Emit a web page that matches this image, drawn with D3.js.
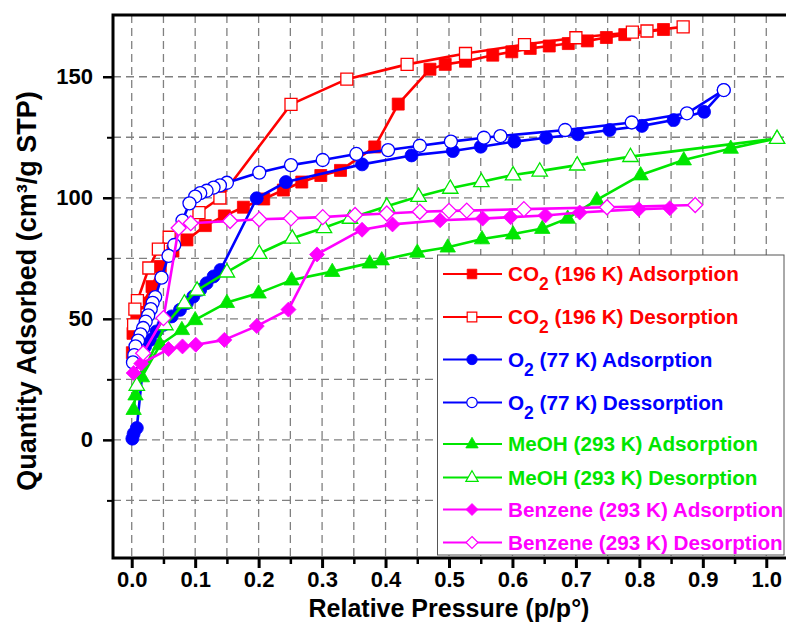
<!DOCTYPE html>
<html>
<head>
<meta charset="utf-8">
<script src="https://cdn.jsdelivr.net/npm/d3@7"></script>
<style>
	body { margin: 0; background: #fff; }
	text { font-family: "Liberation Sans", Arial, sans-serif; font-weight: bold; }
</style>
</head>
<body>
<script>
// isotherm points, [p/p0, cm3/g STP]
var co2Ads = [[0.001, 36], [0.002, 44], [0.008, 50.5], [0.018, 56.5], [0.032, 63.3], [0.045, 71.6], [0.065, 78],
	[0.087, 82.6], [0.116, 88.5], [0.146, 92.5], [0.176, 96.1], [0.208, 99.5], [0.239, 103.2], [0.268, 106.5],
	[0.298, 109.2], [0.329, 111.3], [0.383, 121], [0.420, 138.7], [0.470, 153.1], [0.494, 155.1], [0.526, 156.4],
	[0.569, 158.9], [0.599, 160.3], [0.628, 161.7], [0.658, 162.7], [0.688, 163.7], [0.718, 164.8], [0.748, 166.2],
	[0.777, 167.4], [0.838, 169.5]]
var co2Des = [[0.869, 170.6], [0.812, 168.9], [0.789, 168.4], [0.700, 166.1], [0.619, 163.3], [0.526, 159.6],
	[0.434, 155.1], [0.339, 149.0], [0.251, 138.6], [0.139, 99.9], [0.106, 93.9], [0.059, 83.7], [0.042, 78.8],
	[0.027, 71.0], [0.009, 57.5], [0.005, 54], [0.003, 47.5]]
var o2Ads = [[0.001, 0.5], [0.003, 2.5], [0.008, 4.9], [0.021, 38.5], [0.029, 41.3], [0.039, 44.8], [0.050, 47.5],
	[0.063, 51], [0.076, 53.7], [0.087, 56.5], [0.097, 59.2], [0.108, 62], [0.118, 64.7], [0.129, 67.5], [0.140, 70.2],
	[0.197, 99.8], [0.243, 106.5], [0.363, 113.8], [0.441, 117.5], [0.506, 119.3], [0.550, 121.1], [0.603, 123.2],
	[0.653, 124.8], [0.703, 126.2], [0.753, 128.0], [0.804, 129.7], [0.854, 132.1], [0.902, 135.5], [0.933, 144.5]]
var o2Des = [[0.933, 144.5], [0.875, 134.9], [0.788, 131.1], [0.683, 128.0], [0.581, 125.5], [0.555, 124.8],
	[0.503, 123.2], [0.454, 121.5], [0.404, 119.7], [0.354, 118.1], [0.301, 115.6], [0.251, 113.5], [0.201, 110.4],
	[0.150, 106.2], [0.139, 105.1], [0.129, 104.2], [0.118, 102.9], [0.108, 101.9], [0.100, 100.5], [0.091, 97.7],
	[0.080, 90.6], [0.067, 80.5], [0.058, 76.0], [0.047, 67.0], [0.037, 59.0], [0.033, 56.6], [0.030, 54],
	[0.026, 51.4], [0.022, 48.8], [0.018, 46.2], [0.014, 43.6], [0.010, 41], [0.006, 38.6], [0.004, 35], [0.002, 32]]
var meohAds = [[0.003, 12.5], [0.006, 18.5], [0.016, 26], [0.045, 39.3], [0.079, 45.5], [0.100, 49.6], [0.150, 56.7],
	[0.200, 60.6], [0.252, 66], [0.316, 69.5], [0.375, 73], [0.394, 74.3], [0.450, 77.5], [0.498, 79.6], [0.552, 83],
	[0.601, 85], [0.647, 87.3], [0.687, 91.5], [0.733, 99.1], [0.802, 109.4], [0.870, 115.6], [0.944, 120.4],
	[1.017, 124.5]]
var meohDes = [[1.017, 124.5], [0.786, 117], [0.702, 113.5], [0.643, 111], [0.601, 109.4], [0.551, 106.6],
	[0.502, 103.9], [0.452, 100.5], [0.402, 96.5], [0.344, 91.5], [0.303, 87.6], [0.253, 83.3], [0.201, 77],
	[0.150, 69.3], [0.103, 61.8], [0.083, 56.5], [0.053, 47.5], [0.008, 22.5]]
var benzAds = [[0.003, 27.6], [0.015, 31.5], [0.058, 37.5], [0.080, 38.6], [0.101, 39.3], [0.146, 41.3], [0.197, 47],
	[0.247, 53.8], [0.292, 76.6], [0.363, 86.8], [0.411, 89], [0.486, 90.7], [0.553, 91.4], [0.597, 92], [0.652, 92.7],
	[0.706, 93.9], [0.799, 95.3], [0.848, 95.7]]
var benzDes = [[0.888, 97], [0.749, 96.1], [0.618, 95.3], [0.528, 94.7], [0.500, 94.6], [0.454, 94.2], [0.402, 93.5],
	[0.352, 92.9], [0.301, 92], [0.251, 91.5], [0.201, 91.1], [0.155, 90.4], [0.093, 89.5], [0.074, 87.5],
	[0.050, 50.3], [0.018, 35.8]]

var xMajor = [0, 0.1, 0.2, 0.3, 0.4, 0.5, 0.6, 0.7, 0.8, 0.9, 1.0]
var xMinor = [0.05, 0.15, 0.25, 0.35, 0.45, 0.55, 0.65, 0.75, 0.85, 0.95, 1.05]
var yMajor = [0, 50, 100, 150]
var yMinor = [-25, 25, 75, 125]

var legendNames = [
	['CO', '2', ' (196 K) Adsorption'],
	['CO', '2', ' (196 K) Desorption'],
	['O', '2', ' (77 K) Adsorption'],
	['O', '2', ' (77 K) Dessorption'],
	['MeOH (293 K) Adsorption', '', ''],
	['MeOH (293 K) Desorption', '', ''],
	['Benzene (293 K) Adsorption', '', ''],
	['Benzene (293 K) Desorption', '', '']
]

var red = '#ff0000', blue = '#0000ff', green = '#00e600', magenta = '#ff00ff'

// custom marker shapes, size = width in px
var symSquare = { draw: function (c, s) { c.rect(-s / 2, -s / 2, s, s) } }
var symCircle = { draw: function (c, s) { c.moveTo(s / 2, 0); c.arc(0, 0, s / 2, 0, 2 * Math.PI) } }
var symTriangle = {
	draw: function (c, s) {
		c.moveTo(0, -0.6 * s); c.lineTo(0.55 * s, 0.35 * s); c.lineTo(-0.55 * s, 0.35 * s); c.closePath()
	}
}
var symDiamond = {
	draw: function (c, s) {
		var h = s / 2
		c.moveTo(0, -h); c.lineTo(h, 0); c.lineTo(0, h); c.lineTo(-h, 0); c.closePath()
	}
}

var series = [
	{ data: co2Ads, color: red, sym: symSquare, size: 12, filled: true },
	{ data: co2Des, color: red, sym: symSquare, size: 12, filled: false },
	{ data: o2Ads, color: blue, sym: symCircle, size: 13, filled: true },
	{ data: o2Des, color: blue, sym: symCircle, size: 13, filled: false },
	{ data: meohAds, color: green, sym: symTriangle, size: 14, filled: true },
	{ data: meohDes, color: green, sym: symTriangle, size: 14, filled: false },
	{ data: benzAds, color: magenta, sym: symDiamond, size: 15, filled: true },
	{ data: benzDes, color: magenta, sym: symDiamond, size: 15, filled: false }
]

var width = 786, height = 635
var plotL = 113, plotR = 798, plotT = 15, plotB = 558

var svg = d3.select('body').append('svg')
	.attr('width', width)
	.attr('height', height)

var x = d3.scaleLinear()
	.domain([-0.0295, 1.05])
	.range([plotL, plotR])

var y = d3.scaleLinear()
	.domain([-48.8, 175.5])
	.range([plotB, plotT])

// dashed grid
var grid = svg.append('g')
	.attr('stroke', '#808080')
	.attr('stroke-width', 1.3)
	.attr('stroke-dasharray', '8,5')

grid.selectAll('.vg')
	.data(xMajor.concat(xMinor))
	.enter().append('line')
	.attr('class', 'vg')
	.attr('x1', function (d) { return x(d) })
	.attr('x2', function (d) { return x(d) })
	.attr('y1', plotT)
	.attr('y2', plotB)

grid.selectAll('.hg')
	.data(yMajor.concat(yMinor))
	.enter().append('line')
	.attr('class', 'hg')
	.attr('x1', plotL)
	.attr('x2', plotR)
	.attr('y1', function (d) { return y(d) })
	.attr('y2', function (d) { return y(d) })

var line = d3.line()
	.x(function (d) { return x(d[0]) })
	.y(function (d) { return y(d[1]) })

series.forEach(function (s) {
	var g = svg.append('g')
	g.append('path')
		.attr('d', line(s.data))
		.attr('fill', 'none')
		.attr('stroke', s.color)
		.attr('stroke-width', 2.6)
		.attr('stroke-linejoin', 'round')

	g.selectAll('.pt')
		.data(s.data)
		.enter().append('path')
		.attr('class', 'pt')
		.attr('transform', function (d) { return 'translate(' + x(d[0]) + ',' + y(d[1]) + ')' })
		.attr('d', d3.symbol().type(s.sym).size(s.size))
		.attr('fill', s.filled ? s.color : '#fff')
		.attr('stroke', s.color)
		.attr('stroke-width', s.filled ? 0.8 : 1.3)
})

// legend
var legend = svg.append('g')
legend.append('rect')
	.attr('x', 437.5)
	.attr('y', 255)
	.attr('width', 346.5)
	.attr('height', 300)
	.attr('fill', '#fff')
	.attr('stroke', '#555')
	.attr('stroke-width', 1)

var rowY = [274, 317, 359.5, 402.5, 444, 477.5, 509.5, 542.5]

legendNames.forEach(function (n, i) {
	var s = series[i]
	var ly = rowY[i]
	legend.append('line')
		.attr('x1', 443).attr('x2', 502)
		.attr('y1', ly).attr('y2', ly)
		.attr('stroke', s.color)
		.attr('stroke-width', 2.2)
	legend.append('path')
		.attr('transform', 'translate(472,' + ly + ')')
		.attr('d', d3.symbol().type(s.sym).size(s.size * 0.8))
		.attr('fill', s.filled ? s.color : '#fff')
		.attr('stroke', s.color)
		.attr('stroke-width', s.filled ? 0.8 : 1.2)

	var t = legend.append('text')
		.attr('x', 508)
		.attr('y', ly + 7)
		.attr('font-size', 20.7)
		.attr('fill', s.color)
	t.append('tspan').text(n[0])
	if (n[1]) {
		t.append('tspan').attr('font-size', 17.5).attr('dy', 9).text(n[1])
		t.append('tspan').attr('dy', -9).text(n[2])
	}
})

// axes
var xAxis = svg.append('g')
	.attr('transform', 'translate(0,' + plotB + ')')
	.call(d3.axisBottom(x).tickValues(xMajor).tickSize(10).tickSizeOuter(0).tickFormat(d3.format('.1f')))
xAxis.select('.domain').remove()
xAxis.selectAll('line').attr('stroke-width', 3)
xAxis.selectAll('text').attr('y', 13).attr('font-size', 22).attr('fill', '#000')

var xAxisMinor = svg.append('g')
	.attr('transform', 'translate(0,' + plotB + ')')
	.call(d3.axisBottom(x).tickValues(xMinor).tickSize(6).tickSizeOuter(0).tickFormat(''))
xAxisMinor.select('.domain').remove()
xAxisMinor.selectAll('line').attr('stroke-width', 2.5)

var yAxis = svg.append('g')
	.attr('transform', 'translate(' + plotL + ',0)')
	.call(d3.axisLeft(y).tickValues(yMajor).tickSize(10).tickPadding(10).tickSizeOuter(0))
yAxis.select('.domain').remove()
yAxis.selectAll('line').attr('stroke-width', 2.5)
yAxis.selectAll('text').attr('font-size', 22).attr('fill', '#000')

var yAxisMinor = svg.append('g')
	.attr('transform', 'translate(' + plotL + ',0)')
	.call(d3.axisLeft(y).tickValues(yMinor).tickSize(6).tickSizeOuter(0).tickFormat(''))
yAxisMinor.select('.domain').remove()
yAxisMinor.selectAll('line').attr('stroke-width', 2)

// frame
svg.append('path')
	.attr('d', 'M' + plotR + ',' + plotT + 'H' + plotL + 'V' + plotB + 'H' + plotR)
	.attr('fill', 'none')
	.attr('stroke', '#000')
	.attr('stroke-width', 3)

svg.append('text')
	.attr('x', x(0.5))
	.attr('y', 617)
	.attr('text-anchor', 'middle')
	.attr('font-size', 25)
	.text('Relative Pressure (p/p°)')

svg.append('text')
	.attr('transform', 'translate(36,291) rotate(-90)')
	.attr('text-anchor', 'middle')
	.attr('font-size', 27)
	.text('Quantity Adsorbed (cm³/g STP)')
</script>
</body>
</html>
